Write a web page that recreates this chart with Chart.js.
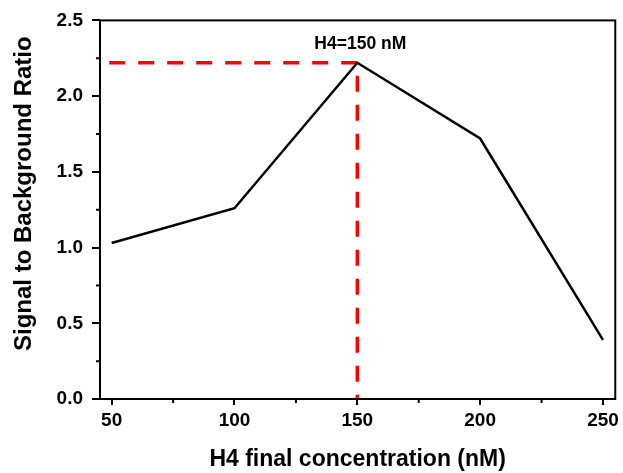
<!DOCTYPE html>
<html>
<head>
<meta charset="utf-8">
<script src="https://cdn.jsdelivr.net/npm/chart.js@4"></script>
<style>
html,body{margin:0;padding:0;background:#fff;}
canvas{display:block;}
</style>
</head>
<body>
<canvas id="c" width="623" height="473"></canvas>
<script>
// ---- data ----
const concentrations = [50, 100, 150, 200, 250];
const ratios = [1.03, 1.26, 2.22, 1.72, 0.39];
const peakX = 150;
const peakY = 2.22;
const guideStartX = 49;
const xTicks = [50, 100, 150, 200, 250];
const xMinorTicks = [75, 125, 175, 225];
const yTicks = [0, 0.5, 1.0, 1.5, 2.0, 2.5];
const yMinorTicks = [0.25, 0.75, 1.25, 1.75, 2.25];
const annotationText = 'H4=150 nM';
const xTitle = 'H4 final concentration (nM)';
const yTitle = 'Signal to Background Ratio';

const FONT = "'Liberation Sans', Arial, sans-serif";

const framePlugin = {
  id: 'frame',
  afterDraw(chart) {
    const {ctx, chartArea: a, scales: {x, y}} = chart;
    ctx.save();
    ctx.strokeStyle = '#000';
    ctx.lineWidth = 2;
    ctx.strokeRect(a.left, a.top, a.right - a.left, a.bottom - a.top);
    // minor ticks
    ctx.beginPath();
    xMinorTicks.forEach(v => {
      const px = x.getPixelForValue(v);
      ctx.moveTo(px, a.bottom);
      ctx.lineTo(px, a.bottom + 4);
    });
    yMinorTicks.forEach(v => {
      const py = y.getPixelForValue(v);
      ctx.moveTo(a.left, py);
      ctx.lineTo(a.left - 4, py);
    });
    ctx.stroke();
    // annotation
    ctx.fillStyle = '#000';
    ctx.font = "bold 17.5px " + FONT;
    ctx.textAlign = 'center';
    ctx.textBaseline = 'middle';
    ctx.fillText(annotationText, x.getPixelForValue(peakX) + 3, y.getPixelForValue(peakY) - 19);
    // y axis title
    ctx.translate(24, (a.top + a.bottom) / 2 - 16);
    ctx.rotate(-Math.PI / 2);
    ctx.font = "bold 24px " + FONT;
    ctx.fillText(yTitle, 0, 0);
    ctx.restore();
  }
};

new Chart(document.getElementById('c'), {
  type: 'line',
  data: {
    datasets: [
      {
        data: concentrations.map((v, i) => ({x: v, y: ratios[i]})),
        borderColor: '#000',
        borderWidth: 2.5,
        pointRadius: 0,
        tension: 0,
        fill: false,
        order: 1
      },
      {
        data: [{x: guideStartX, y: peakY}, {x: peakX, y: peakY}, {x: peakX, y: 0}],
        borderColor: '#ff0000',
        borderWidth: 3.5,
        borderDash: [16, 13],
        pointRadius: 0,
        tension: 0,
        fill: false,
        order: 2
      }
    ]
  },
  options: {
    responsive: false,
    animation: false,
    layout: {padding: {top: 18, right: 7, left: 0, bottom: 0}},
    plugins: {legend: {display: false}, tooltip: {enabled: false}},
    scales: {
      x: {
        type: 'linear',
        min: 45.25,
        max: 255,
        afterBuildTicks: s => { s.ticks = xTicks.map(v => ({value: v})); },
        afterFit: s => { s.height = 74; },
        border: {display: false},
        grid: {drawOnChartArea: false, drawTicks: true, tickLength: 6, color: '#000', lineWidth: 2},
        ticks: {color: '#000', font: {family: FONT, size: 19, weight: 'bold'}, padding: 4, maxRotation: 0},
        title: {display: true, text: xTitle, color: '#000', font: {family: FONT, size: 23, weight: 'bold'}, padding: {top: 0, bottom: 0}}
      },
      y: {
        type: 'linear',
        min: 0,
        max: 2.5,
        afterBuildTicks: s => { s.ticks = yTicks.map(v => ({value: v})); },
        afterFit: s => { s.width = 100; },
        border: {display: false},
        grid: {drawOnChartArea: false, drawTicks: true, tickLength: 8, color: '#000', lineWidth: 2},
        ticks: {color: '#000', font: {family: FONT, size: 19, weight: 'bold'}, padding: 9, callback: v => Number(v).toFixed(1)},
        title: {display: false}
      }
    }
  },
  plugins: [framePlugin]
});
</script>
</body>
</html>
